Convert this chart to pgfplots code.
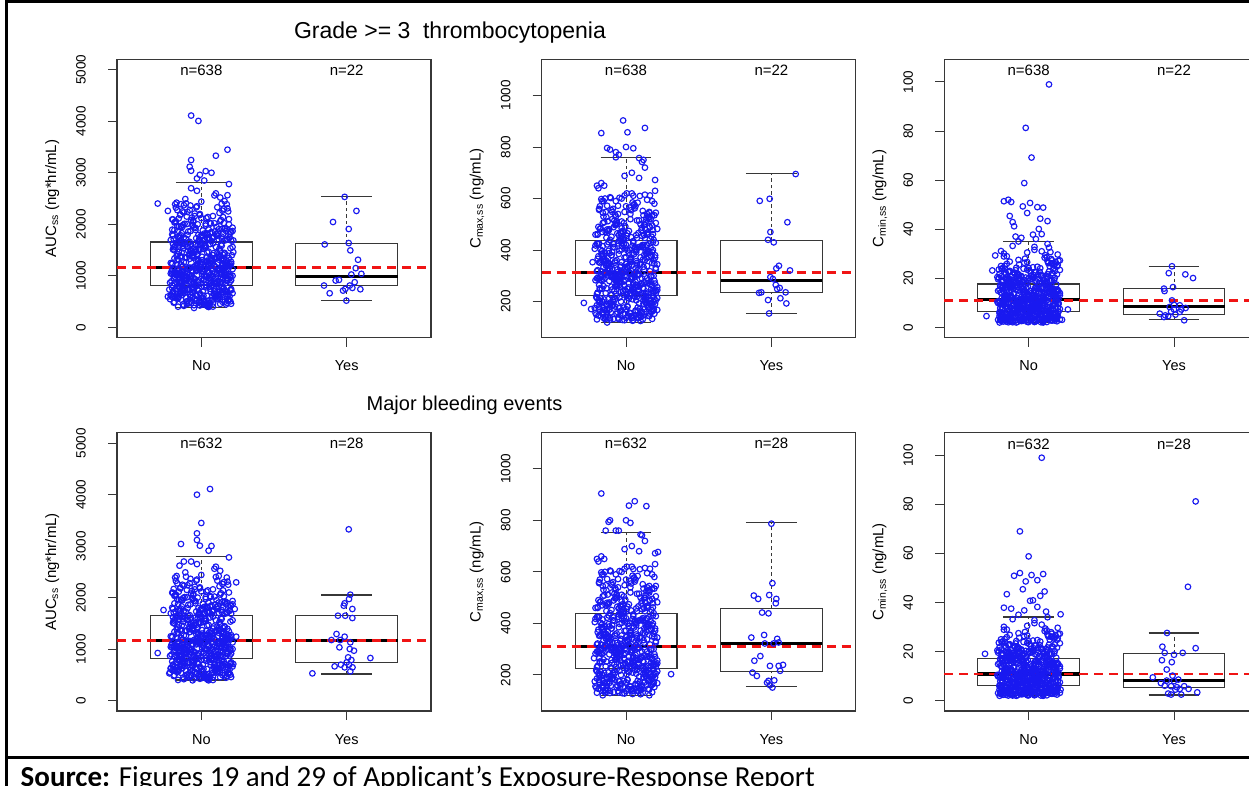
\documentclass[border=0pt]{standalone}
\usepackage{fontspec}
\setmainfont{Liberation Sans}
\newfontfamily\calfont{Carlito}
\usepackage{pgfplots}
\pgfplotsset{compat=1.18}
\usepackage{pgfplotstable}

\definecolor{ptblue}{RGB}{25,25,240}
\definecolor{axgray}{RGB}{55,55,55}
\definecolor{rdash}{RGB}{240,20,20}

% No group: x (jitter), AUC, Cmax, Cmin
\pgfplotstableread{
x a c m
0.84 402 150 3.1
1.13 455 298 8.2
0.97 610 402 14.5
1.05 520 611 22.4
0.91 733 188 4.4
1.18 688 265 9.7
0.82 575 352 16.1
1.02 790 474 19.8
0.95 430 132 2.6
1.09 645 244 7.1
0.88 702 330 12.9
1.16 498 520 27.3
1.00 560 171 5.2
0.80 760 290 10.4
1.11 610 415 13.8
0.93 470 498 21.1
1.07 805 205 3.8
0.86 540 233 6.9
1.20 725 371 15.2
0.99 660 688 30.5
1.04 415 144 2.2
0.83 592 301 9.1
1.14 770 388 12.3
0.90 505 452 18.6
1.01 698 215 5.9
1.17 445 277 8.8
0.87 633 344 16.8
1.06 748 562 24.7
0.94 585 160 4.0
1.12 795 228 7.6
0.81 480 425 14.1
0.98 715 470 20.3
1.19 528 198 3.4
0.92 655 309 10.9
1.03 440 362 12.0
0.85 778 508 25.9
1.10 600 125 2.0
0.96 513 256 7.4
1.15 682 398 15.9
0.89 742 605 33.2
1.08 462 177 4.9
0.79 620 283 9.9
1.00 788 420 13.3
1.13 550 447 18.0
0.86 705 140 2.9
1.05 395 238 6.6
0.94 668 325 17.2
1.18 598 535 22.9
0.91 752 209 5.6
1.02 487 270 8.5
0.83 640 355 11.6
1.16 720 492 19.2
0.97 535 165 3.3
1.07 808 316 10.1
0.88 418 431 16.4
1.11 690 742 28.4
1.01 575 182 4.7
0.82 662 248 7.9
1.20 505 380 14.8
0.95 735 458 20.9
1.04 612 136 2.4
0.90 452 295 9.4
1.14 782 368 12.6
0.84 563 545 23.6
1.09 696 193 5.0
0.99 425 261 8.0
1.17 650 409 15.5
0.87 760 480 26.8
1.03 518 154 3.6
0.93 627 286 9.6
1.12 740 335 13.0
0.80 590 650 21.8
1.06 468 220 6.2
0.96 802 306 11.1
1.19 548 440 17.5
0.90 820 225 6.8
1.12 1105 410 15.1
0.85 960 168 3.9
1.03 875 520 20.4
0.97 1150 292 10.6
1.18 905 350 13.7
0.81 1040 146 2.7
1.08 990 584 24.1
0.94 845 262 8.3
1.15 1125 392 16.3
0.88 930 210 5.4
1.01 1070 465 19.5
0.83 1010 304 10.0
1.10 860 372 12.8
0.99 1135 128 2.3
1.20 975 630 29.7
0.92 890 241 7.3
1.05 1055 428 14.4
0.80 1118 186 4.6
1.13 940 500 21.7
0.96 828 280 9.3
1.02 1000 339 12.2
0.87 1088 158 3.0
1.16 1020 545 26.1
0.93 950 230 6.4
1.07 872 403 15.7
0.84 1142 199 5.1
1.11 1062 487 18.3
0.98 915 311 10.8
1.19 1030 360 11.9
0.89 838 138 2.5
1.04 1098 700 31.6
0.82 985 252 7.8
1.14 1155 385 16.7
0.95 882 175 4.3
1.00 945 445 20.0
1.17 1080 298 9.0
0.86 1015 342 13.4
1.09 855 150 3.5
0.91 1128 560 23.3
1.06 968 235 6.0
0.79 1045 418 14.9
1.12 898 192 4.8
0.97 1112 511 19.0
1.03 822 288 8.7
0.85 1065 366 12.5
1.18 925 133 2.8
0.93 1002 590 27.5
1.08 1140 246 7.2
0.88 867 397 15.3
1.01 1092 180 4.1
1.15 955 462 18.8
0.83 1025 318 10.3
1.10 840 347 12.1
0.96 1148 163 3.2
1.20 1008 672 25.4
0.90 910 258 7.7
1.05 1075 435 16.0
0.81 952 207 5.5
1.13 885 483 20.6
0.99 1120 300 9.8
1.07 980 357 11.4
0.86 850 142 2.1
1.16 1050 530 22.0
0.94 1100 268 8.1
1.02 935 390 14.0
0.80 1035 214 5.8
1.11 892 455 17.9
0.92 1158 285 9.2
1.17 865 378 13.1
0.87 1082 170 3.7
1.04 997 620 32.8
0.98 830 240 6.5
1.14 1060 420 15.0
0.89 918 196 4.5
1.02 1175 315 10.5
0.84 1420 505 19.9
1.15 1290 178 4.2
0.93 1600 260 8.4
1.07 1230 399 14.2
0.81 1510 640 25.0
1.19 1345 222 6.1
0.96 1190 333 11.0
1.10 1560 148 2.6
0.88 1265 476 18.4
1.04 1455 289 9.5
0.99 1625 371 13.6
1.17 1205 202 5.3
0.86 1380 548 22.6
1.12 1315 251 7.5
0.91 1490 412 15.4
1.00 1640 137 2.2
0.79 1250 460 19.6
1.08 1400 307 10.2
0.95 1180 385 12.4
1.20 1535 191 4.9
0.83 1305 598 28.9
1.05 1470 272 8.9
0.97 1215 353 13.2
1.14 1585 160 3.3
0.89 1360 440 17.1
1.01 1255 236 6.7
1.16 1430 425 14.7
0.85 1650 208 5.7
1.09 1195 515 21.3
0.92 1330 295 9.7
1.03 1545 365 12.7
0.80 1240 131 2.0
1.13 1475 720 34.0
0.98 1285 228 7.0
1.06 1615 405 15.8
0.87 1170 184 4.5
1.18 1395 495 20.2
0.94 1520 282 9.0
1.00 1225 346 11.7
1.11 1440 155 3.0
0.82 1570 570 23.9
1.04 1275 244 7.9
0.90 1355 380 13.9
1.19 1200 170 4.4
0.96 1500 468 18.7
1.08 1630 302 10.7
0.84 1320 358 12.9
1.15 1410 145 2.9
0.99 1260 612 26.6
1.02 1590 255 8.6
0.87 1185 422 16.2
1.12 1365 205 5.0
0.93 1480 530 21.5
1.06 1245 297 9.3
0.81 1555 376 14.3
1.17 1300 162 3.8
0.97 1425 485 19.3
1.05 1210 266 8.2
0.89 1605 328 11.2
1.14 1335 217 5.9
0.95 1465 435 17.6
1.10 1168 140 2.4
0.83 1390 660 30.1
1.01 1525 249 7.1
1.18 1280 392 13.5
0.91 1645 188 4.7
1.07 1350 458 18.1
0.86 1220 312 10.0
1.13 1495 361 12.0
0.98 1310 153 3.4
1.03 1580 540 24.5
0.80 1235 230 6.3
1.16 1445 395 15.6
0.94 1375 275 8.8
1.01 1680 332 11.3
0.87 1950 572 23.0
1.14 1760 195 4.8
0.92 2280 410 16.5
1.06 1830 258 7.7
0.81 1710 490 20.8
1.19 2100 300 9.9
0.96 1890 148 2.7
1.09 2560 680 31.0
0.85 1735 366 13.0
1.03 2010 232 6.6
0.98 1665 445 17.4
1.16 1920 180 4.0
0.90 2150 555 22.2
1.11 1780 290 9.1
0.83 2420 385 14.6
1.05 1700 138 2.5
0.94 1990 505 19.7
1.20 1845 270 8.0
0.88 2230 350 12.2
1.02 1690 212 5.5
1.13 2060 615 27.0
0.80 1805 318 10.4
0.97 2350 428 15.1
1.08 1740 165 3.6
0.86 1960 470 18.9
1.17 1870 246 7.4
0.93 2700 760 35.0
1.04 1720 340 11.8
0.82 2045 200 5.2
1.12 1905 535 21.0
0.99 2180 285 9.4
1.07 1675 392 14.0
0.89 2490 130 2.1
1.15 1810 460 19.1
0.95 1940 262 8.3
1.00 2120 372 12.8
0.84 1755 176 4.3
1.18 2310 590 25.7
0.91 1860 308 10.6
1.06 2030 412 15.9
0.79 1695 156 3.1
1.10 2600 500 20.0
0.98 1795 240 6.8
1.03 1975 355 13.3
0.87 2250 190 4.6
1.14 1725 525 22.8
0.93 2080 280 8.7
1.01 1880 398 14.9
1.19 2780 170 3.9
0.85 1770 650 29.0
1.08 2160 322 10.9
0.96 1930 438 16.9
1.12 1705 218 5.8
0.82 2390 482 19.4
1.04 1815 295 9.6
0.90 2005 380 13.6
1.16 1685 144 2.8
0.99 2200 548 23.5
1.07 1850 265 7.9
0.88 1745 345 12.5
1.13 2520 205 5.4
0.94 1970 465 17.8
1.02 1820 312 10.3
0.80 2095 425 15.3
1.18 1715 185 4.1
0.97 2650 600 26.3
1.05 1900 250 7.6
0.86 1785 360 12.7
1.11 2330 160 3.5
0.92 1660 515 21.4
1.09 2020 305 9.8
0.84 1875 415 16.0
1.15 2140 220 6.0
1.00 2440 570 24.2
0.815 612 352 8.4
1.065 931 162 21.5
0.935 1388 512 3.7
1.175 1905 262 13.4
1.025 488 401 9.9
0.875 1044 141 19.0
1.145 1215 468 5.1
0.955 2210 297 15.6
0.905 735 327 7.2
1.195 876 208 24.8
0.845 1590 590 2.4
1.085 1750 241 12.0
1.115 556 420 10.6
0.985 1120 177 18.1
1.005 1302 455 4.3
0.825 2060 284 16.9
0.865 671 339 6.9
1.135 968 195 26.2
0.925 1480 537 6.0
1.205 1685 232 11.5
1.045 452 389 8.9
0.795 1085 150 20.2
1.165 1178 612 2.9
0.965 2330 306 14.2
0.945 788 316 10.1
1.075 825 219 22.7
0.885 1645 481 5.6
1.105 1815 270 17.4
1.185 520 431 7.6
0.915 1010 133 18.6
1.055 1256 574 3.4
0.835 1970 250 12.7
0.805 699 366 9.4
1.155 1150 186 27.9
0.975 1420 443 4.9
1.035 2120 309 15.0
1.095 575 344 11.0
0.855 890 167 19.7
1.125 1530 498 2.2
0.895 1720 228 13.8
0.995 466 408 6.7
1.215 1002 214 23.4
0.815 1337 556 5.3
1.145 2265 291 16.3
0.875 752 323 8.1
1.015 1132 145 21.0
1.185 1195 462 3.9
0.925 1868 259 11.8
1.135 641 395 10.3
0.835 845 201 25.1
0.955 1612 603 6.3
1.065 2015 277 14.9
0.925 503 357 7.0
1.095 1076 172 18.3
1.035 1283 450 2.7
0.805 1780 235 17.1
1.205 720 428 9.6
0.945 957 138 20.7
0.865 1455 528 4.6
1.175 2390 300 12.4
0.845 590 334 11.2
1.125 1108 222 28.6
1.105 1362 477 3.1
0.985 1705 266 15.9
1.055 432 384 6.5
0.895 918 158 19.3
0.905 1572 548 5.8
1.215 1935 245 13.1
0.965 805 320 8.6
1.165 1158 193 22.1
1.195 1228 580 2.5
0.855 2180 314 16.6
1.105 547 412 10.8
0.815 858 180 24.0
0.985 1500 440 4.1
1.005 1765 226 11.4
0.885 668 348 7.4
1.045 1060 126 18.9
1.075 1318 515 6.2
0.945 2050 288 14.6
1.175 478 375 9.2
0.925 983 210 21.9
0.835 1628 470 3.3
1.115 1840 253 17.7
0.825 741 402 10.4
1.185 1135 164 26.7
1.145 1245 595 5.0
0.875 1990 302 12.2
1.015 615 330 6.8
0.865 901 148 19.9
0.915 1398 489 2.0
1.155 2300 273 15.3
1.145 498 419 8.3
1.005 1027 203 23.1
1.025 1550 565 4.7
0.965 1730 238 13.5
0.935 772 361 11.1
0.785 868 175 20.5
1.175 1206 452 3.6
1.045 2140 295 16.1
1.075 534 343 7.8
1.115 1095 131 29.4
0.845 1465 530 5.9
0.815 1888 264 11.9
0.855 688 390 9.7
0.955 940 216 18.5
1.095 1340 610 2.6
1.195 1810 281 14.4
1.205 458 326 10.0
0.835 1112 155 22.4
0.975 1595 474 4.4
0.905 2240 247 17.0
0.975 726 415 6.6
1.145 850 189 24.9
1.205 1272 545 6.4
1.025 1698 310 12.6
0.895 581 337 8.8
0.885 1050 169 19.4
0.805 1512 460 3.0
1.135 2085 230 15.8
1.125 636 381 10.9
1.035 1002 142 21.3
1.045 1230 585 5.5
0.845 1950 286 13.3
0.815 492 425 7.3
1.205 915 205 27.1
0.925 1430 497 2.3
1.085 1760 258 16.4
1.035 778 354 9.0
0.905 1142 183 18.2
1.155 1322 525 4.8
0.955 2160 299 11.7
0.955 561 398 11.3
1.085 872 136 20.9
0.865 1618 448 3.5
1.205 1852 242 14.8
1.165 702 318 6.9
0.815 1070 197 23.8
1.065 1190 570 6.1
0.885 2010 280 17.3
0.875 445 368 8.0
1.175 962 160 19.2
0.985 1525 505 2.8
1.055 1715 235 12.9
1.085 655 410 10.2
0.935 1100 221 25.6
1.125 1385 458 5.2
0.925 2365 304 15.2
0.995 520 333 7.7
1.055 835 147 18.7
0.895 1262 602 4.0
1.165 1925 268 13.9
0.835 795 386 9.5
0.865 1030 190 22.9
1.215 1560 482 3.2
0.805 2095 292 16.7
1.195 605 347 11.0
1.125 1125 170 20.0
0.945 1350 540 5.7
1.005 1790 225 11.6
0.915 470 423 6.4
0.975 880 129 28.0
1.085 1440 466 2.1
1.125 2220 276 14.1
1.065 690 329 8.7
0.825 1068 212 18.8
0.835 1212 590 4.5
0.865 1830 252 17.5
0.785 548 405 10.5
1.195 990 153 21.6
1.135 1605 510 3.8
0.975 2000 311 12.3
1.155 757 372 7.1
0.915 1152 199 24.3
0.965 1295 445 6.0
1.195 1745 239 15.4
0.965 625 340 9.3
1.065 860 165 19.6
0.815 1495 560 2.9
0.835 2275 283 13.0
1.045 412 417 10.7
0.845 1015 137 22.0
1.165 1240 488 4.2
1.095 1868 261 16.0
0.865 740 358 6.6
1.155 1080 207 26.0
1.005 1370 620 5.4
0.935 2130 305 11.3
1.125 580 325 8.5
0.955 935 176 18.4
0.875 1580 473 2.5
1.175 1700 233 14.5
0.905 508 393 11.1
1.025 1118 157 20.4
1.195 1188 535 4.6
0.815 2035 290 17.2
1.215 663 345 7.5
0.795 895 218 23.6
0.935 1445 500 3.0
1.045 1805 249 12.5
0.845 790 380 9.8
1.105 1040 143 19.1
1.055 1328 578 6.3
0.895 2405 298 15.7
1.005 442 336 10.3
0.905 975 185 21.8
0.805 1620 463 3.5
1.145 1915 271 13.7
1.095 712 413 6.8
1.215 1130 168 27.3
1.115 1252 552 5.0
0.995 1772 244 16.5
0.925 596 351 8.2
0.855 852 132 18.0
0.995 1515 492 2.2
0.855 2190 307 11.9
1.185 529 400 10.6
1.045 1060 209 22.6
0.855 1375 600 4.3
1.215 1870 256 14.0
0.805 680 322 7.9
0.935 1002 152 20.1
1.185 1198 478 5.8
0.945 2075 285 17.6
1.035 465 371 9.1
1.175 908 194 25.3
0.905 1565 520 2.7
1.075 1728 229 12.1
0.945 760 426 11.2
0.815 1145 173 18.6
1.075 1290 447 4.9
0.825 2325 294 15.5
1.145 540 338 6.5
1.085 940 139 21.2
0.945 1410 572 3.3
1.105 1950 267 13.6
0.885 728 388 8.6
0.965 1092 200 23.9
1.205 1235 505 6.4
0.905 1795 302 16.8
1.075 602 350 10.0
0.845 882 159 19.8
0.825 1640 485 2.4
1.185 2250 240 11.1
0.985 485 421 7.2
1.135 1025 216 26.5
1.035 1355 555 5.2
0.985 1688 278 14.3
1.205 745 331 9.5
0.925 1155 181 18.1
0.965 1470 468 3.6
0.845 2115 260 17.3
0.835 567 396 11.0
1.015 915 146 22.3
1.145 1218 540 4.1
1.035 1825 289 12.8
1.115 630 362 6.7
0.885 1008 191 20.6
0.875 1535 512 2.9
1.155 2025 236 15.1
}\tabNo

\pgfplotsset{
  panel/.style={
    scale only axis, width=314pt, height=278.3pt, anchor=south west,
    xmin=0.42, xmax=2.58, xtick={1,2}, xticklabels={No,Yes},
    tick pos=left, tick align=outside, major tick length=9pt,
    axis line style={axgray, line width=1.2pt},
    tick style={axgray, line width=1pt},
    xticklabel style={font=\fontsize{14.5}{16}\selectfont, anchor=north, inner sep=0pt},
    yticklabel style={font=\fontsize{13.5}{15}\selectfont, rotate=90, anchor=south, inner sep=0pt},
    xticklabel shift=14pt, yticklabel shift=22pt,
    scaled y ticks=false, clip=false,
  },
  pts/.style={only marks, mark=o, mark size=2.8pt, color=ptblue, mark options={line width=1.15pt}},
  bxl/.style={axgray, line width=1.2pt, line join=miter},
  wsk/.style={axgray, line width=0.9pt, dash pattern=on 3.5pt off 3pt},
  medl/.style={black, line width=3.4pt},
  redl/.style={rdash, line width=2.6pt, dash pattern=on 9pt off 6pt},
}
\tikzset{
  nl/.style={font=\fontsize{15}{17}\selectfont, anchor=base, inner sep=0pt},
  yl/.style={font=\fontsize{15}{17}\selectfont, rotate=90, anchor=base, inner sep=0pt},
}

\newcommand{\boxNo}[5]{%
  \addplot[bxl] coordinates {(1,#2) (1.35,#2) (1.35,#4) (0.65,#4) (0.65,#2) (1,#2)};
  \addplot[wsk] coordinates {(1,#1) (1,#2)};
  \addplot[wsk] coordinates {(1,#4) (1,#5)};
  \addplot[bxl] coordinates {(0.825,#1) (1.175,#1)};
  \addplot[bxl] coordinates {(0.825,#5) (1.175,#5)};
  \addplot[medl] coordinates {(0.65,#3) (1.35,#3)};
}
\newcommand{\boxYes}[5]{%
  \addplot[bxl] coordinates {(2,#2) (2.35,#2) (2.35,#4) (1.65,#4) (1.65,#2) (2,#2)};
  \addplot[wsk] coordinates {(2,#1) (2,#2)};
  \addplot[wsk] coordinates {(2,#4) (2,#5)};
  \addplot[bxl] coordinates {(1.825,#1) (2.175,#1)};
  \addplot[bxl] coordinates {(1.825,#5) (2.175,#5)};
  \addplot[medl] coordinates {(1.65,#3) (2.35,#3)};
}
\newcommand{\redline}[1]{\addplot[redl] coordinates {(0.42,#1) (2.58,#1)};}

\begin{document}
\begin{tikzpicture}[x=1pt,y=1pt]
\useasboundingbox (0,0) rectangle (1249,786);
\clip (0,0) rectangle (1249,786);
\fill[white] (0,0) rectangle (1249,786);

% ---------- top row: Grade >= 3 thrombocytopenia ----------
\begin{axis}[panel, at={(117pt,448.3pt)}, ymin=-200, ymax=5200,
  ytick={0,1000,2000,3000,4000,5000}, yticklabels={0,1000,2000,3000,4000,5000}]
\boxNo{390}{812}{1160}{1656}{2812}
\boxYes{519}{812}{987}{1623}{2545}
\addplot[pts] table[x=x,y=a]{\tabNo};
\addplot[pts] coordinates {(0.93,4110) (0.98,4006) (1.18,3448) (1.10,3331) (0.93,3247) (0.92,3117) (0.93,3039) (1.03,3032) (1.07,3000) (0.99,2960) (0.97,2890) (1.02,2850) (0.70,2403) (0.77,2260) (0.80,1896) (0.88,2370) (0.86,2390) (1.18,2565) (1.19,2000) (1.22,1688) (1.14,2400) (1.16,2450) (0.78,734) (0.77,597) (0.95,377) (1.08,403) (1.17,682) (1.21,1400) (1.22,1460) (0.79,620) (0.80,820)};
\addplot[pts] coordinates {(1.986,2532) (2.067,2260) (1.906,2045) (2.014,1909) (1.849,1610) (2.014,1636) (2.025,1494) (2.078,1312) (2.062,1149) (2.032,1026) (2.101,1039) (1.947,922) (1.924,909) (1.844,812) (2.055,877) (2.021,812) (1.991,747) (2.039,766) (1.883,662) (2.094,740) (1.998,519) (1.975,714)};
\redline{1165}
\node[nl] at (axis cs:1,4890) {n=638};
\node[nl] at (axis cs:2,4890) {n=22};
\node[yl] at ([xshift=-61pt]rel axis cs:0,0.5) {AUC\textsubscript{ss} (ng*hr/mL)};
\end{axis}

\begin{axis}[panel, at={(541.7pt,448.3pt)}, ymin=60, ymax=1140,
  ytick={200,400,600,800,1000}, yticklabels={200,400,600,800,1000}]
\boxNo{119}{223}{314}{437}{759}
\boxYes{154}{236}{282}{438}{696}
\addplot[pts] table[x=x,y=c]{\tabNo};
\addplot[pts] coordinates {(0.98,903) (1.13,874) (0.83,854) (1.01,857) (0.87,796) (0.89,790) (1.00,800) (1.05,795) (0.93,780) (0.77,353) (0.71,195) (0.76,171) (1.15,460) (1.17,520) (1.16,548) (1.16,154) (0.87,119) (1.05,128) (1.09,757) (1.12,750) (0.95,770)};
\addplot[pts] coordinates {(2.167,695) (1.920,591) (1.988,599) (2.110,508) (1.993,470) (1.977,440) (2.016,430) (2.052,339) (2.034,329) (2.128,321) (1.993,295) (2.030,265) (2.057,253) (2.098,236) (1.931,236) (1.915,234) (1.977,206) (2.062,213) (2.103,193) (1.984,154) (2.040,249) (2.010,288)};
\redline{312}
\node[nl] at (axis cs:1,1078) {n=638};
\node[nl] at (axis cs:2,1078) {n=22};
\node[yl] at ([xshift=-61pt]rel axis cs:0,0.5) {C\textsubscript{max,ss} (ng/mL)};
\end{axis}

\begin{axis}[panel, at={(944.3pt,448.3pt)}, ymin=-4.2, ymax=109.2,
  ytick={0,20,40,60,80,100}, yticklabels={0,20,40,60,80,100}]
\boxNo{1.9}{6.5}{11.3}{17.7}{35.0}
\boxYes{3.1}{5.2}{8.6}{15.8}{24.9}
\addplot[pts] table[x=x,y=m]{\tabNo};
\addplot[pts] coordinates {(1.14,99.0) (0.98,81.3) (1.02,69.2) (0.97,58.8) (0.83,51.4) (0.86,52.0) (0.88,51.1) (0.96,49.3) (1.01,50.7) (1.06,49.0) (1.10,48.8) (0.99,46.6) (0.87,45.4) (0.89,42.9) (0.90,41.2) (1.08,44.3) (1.13,43.3) (1.07,40.1) (1.09,38.0) (1.03,37.8) (0.91,37.0) (0.95,36.5) (0.75,23.2) (0.71,4.6) (0.77,29.3) (0.81,31.1) (1.23,3.1) (1.27,7.3) (1.20,13.0) (1.17,23.9) (1.14,32.5) (1.15,30.7) (1.05,36.0)};
\addplot[pts] coordinates {(1.986,24.9) (1.964,22.1) (2.078,21.6) (2.131,20.1) (1.993,16.4) (1.931,15.8) (1.935,14.8) (1.986,11.0) (2.000,9.2) (1.970,8.3) (2.040,9.0) (2.080,7.9) (1.902,5.6) (1.931,4.2) (1.960,4.6) (2.010,5.2) (2.040,6.3) (1.980,6.5) (2.070,2.9) (2.000,7.3) (1.940,4.9) (2.050,7.3)};
\redline{11.0}
\node[nl] at (axis cs:1,102.5) {n=638};
\node[nl] at (axis cs:2,102.5) {n=22};
\node[yl] at ([xshift=-61pt]rel axis cs:0,0.5) {C\textsubscript{min,ss} (ng/mL)};
\end{axis}

% ---------- bottom row: Major bleeding events ----------
\begin{axis}[panel, at={(117pt,75pt)}, ymin=-200, ymax=5200,
  ytick={0,1000,2000,3000,4000,5000}, yticklabels={0,1000,2000,3000,4000,5000}]
\boxNo{401}{821}{1164}{1649}{2801}
\boxYes{517}{744}{1164}{1649}{2050}
\addplot[pts] table[x=x,y=a]{\tabNo};
\addplot[pts] coordinates {(1.06,4107) (0.97,3997) (1.00,3448) (0.97,3247) (0.86,3040) (0.97,3118) (0.99,3008) (1.07,3001) (1.05,2911) (1.24,2296) (0.81,2167) (0.74,1759) (1.23,1779) (0.70,925) (0.78,530) (0.79,634) (1.24,1242) (1.22,712) (1.08,401) (0.94,395) (0.85,2620) (0.88,2700) (1.10,2400) (1.12,2420)};
\addplot[pts] coordinates {(2.014,3325) (2.025,2057) (2.016,1973) (1.986,1889) (1.980,1843) (2.039,1779) (1.940,1649) (1.990,1649) (2.039,1604) (1.930,1294) (1.986,1242) (1.895,1177) (1.955,1177) (2.025,1132) (2.021,1003) (2.050,970) (2.163,828) (2.032,789) (2.000,744) (1.960,699) (2.016,699) (1.917,666) (1.986,647) (2.025,569) (1.764,530) (2.040,647) (2.010,841) (1.950,1035)};
\redline{1164}
\node[nl] at (axis cs:1,4890) {n=632};
\node[nl] at (axis cs:2,4890) {n=28};
\node[yl] at ([xshift=-61pt]rel axis cs:0,0.5) {AUC\textsubscript{ss} (ng*hr/mL)};
\end{axis}

\begin{axis}[panel, at={(541.7pt,75pt)}, ymin=60, ymax=1140,
  ytick={200,400,600,800,1000}, yticklabels={200,400,600,800,1000}]
\boxNo{121}{226}{310}{439}{754}
\boxYes{156}{212}{323}{458}{790}
\addplot[pts] table[x=x,y=c]{\tabNo};
\addplot[pts] coordinates {(0.83,904) (1.06,874) (1.02,857) (1.14,855) (0.88,794) (0.89,800) (1.00,800) (1.03,790) (1.22,677) (1.31,203) (0.78,265) (1.16,121) (0.84,121) (0.95,760) (1.10,745) (0.86,760)};
\addplot[pts] coordinates {(2.000,787) (2.007,556) (1.985,510) (2.034,495) (2.030,478) (1.879,508) (1.909,495) (1.936,442) (1.980,439) (1.862,345) (1.950,355) (2.040,340) (1.955,322) (2.015,322) (2.050,326) (1.924,273) (1.883,255) (1.990,235) (2.050,235) (2.080,239) (2.060,216) (1.870,209) (1.900,196) (1.980,177) (2.020,179) (1.990,160) (2.007,151) (1.970,170)};
\redline{310}
\node[nl] at (axis cs:1,1078) {n=632};
\node[nl] at (axis cs:2,1078) {n=28};
\node[yl] at ([xshift=-61pt]rel axis cs:0,0.5) {C\textsubscript{max,ss} (ng/mL)};
\end{axis}

\begin{axis}[panel, at={(944.3pt,75pt)}, ymin=-4.2, ymax=109.2,
  ytick={0,20,40,60,80,100}, yticklabels={0,20,40,60,80,100}]
\boxNo{2.0}{6.3}{10.9}{17.3}{34.1}
\boxYes{2.3}{5.5}{8.3}{19.2}{27.6}
\addplot[pts] table[x=x,y=m]{\tabNo};
\addplot[pts] coordinates {(1.09,99.0) (0.94,69.0) (1.00,58.8) (0.90,50.9) (0.94,52.0) (1.02,51.2) (1.10,51.6) (1.06,49.1) (0.98,48.6) (0.96,45.4) (0.85,43.4) (1.08,42.7) (1.11,44.5) (1.01,40.7) (1.03,40.9) (0.83,37.9) (0.88,37.5) (1.22,35.2) (0.70,19.1) (1.22,4.5) (1.12,36.3) (0.97,36.8) (1.06,38.2)};
\addplot[pts] coordinates {(2.149,81.2) (2.096,46.4) (1.952,27.6) (1.920,22.0) (2.149,21.4) (1.936,19.5) (2.000,18.7) (2.060,19.5) (1.917,16.5) (1.985,15.7) (1.950,12.7) (1.854,9.5) (1.950,8.2) (2.030,8.6) (1.936,6.1) (1.980,5.9) (2.020,5.5) (2.070,5.9) (1.960,2.9) (1.980,2.5) (2.050,2.5) (2.160,3.4) (2.100,4.8) (2.000,8.0) (2.010,4.5) (2.040,4.8) (1.910,7.2) (1.990,10.2)};
\redline{10.9}
\node[nl] at (axis cs:1,102.5) {n=632};
\node[nl] at (axis cs:2,102.5) {n=28};
\node[yl] at ([xshift=-61pt]rel axis cs:0,0.5) {C\textsubscript{min,ss} (ng/mL)};
\end{axis}

% ---------- titles, frame, source ----------
\node[font=\fontsize{23}{26}\selectfont, anchor=base, inner sep=0pt] at (450,747) {Grade >= 3\hspace{0.55em}thrombocytopenia};
\node[font=\fontsize{20}{23}\selectfont, anchor=base, inner sep=0pt] at (464.5,375) {Major bleeding events};
\draw[black, line width=2.8pt] (6.5,-5) -- (6.5,786);
\draw[black, line width=2.7pt] (5.1,784.7) -- (1260,784.7);
\draw[black, line width=3pt] (5.1,28.3) -- (1260,28.3);
\node[font=\calfont\fontsize{29}{32}\selectfont, anchor=base west, inner sep=0pt] at (20.5,-1) {\textbf{Source:} Figures 19 and 29 of Applicant’s Exposure-Response Report};
\end{tikzpicture}
\end{document}
